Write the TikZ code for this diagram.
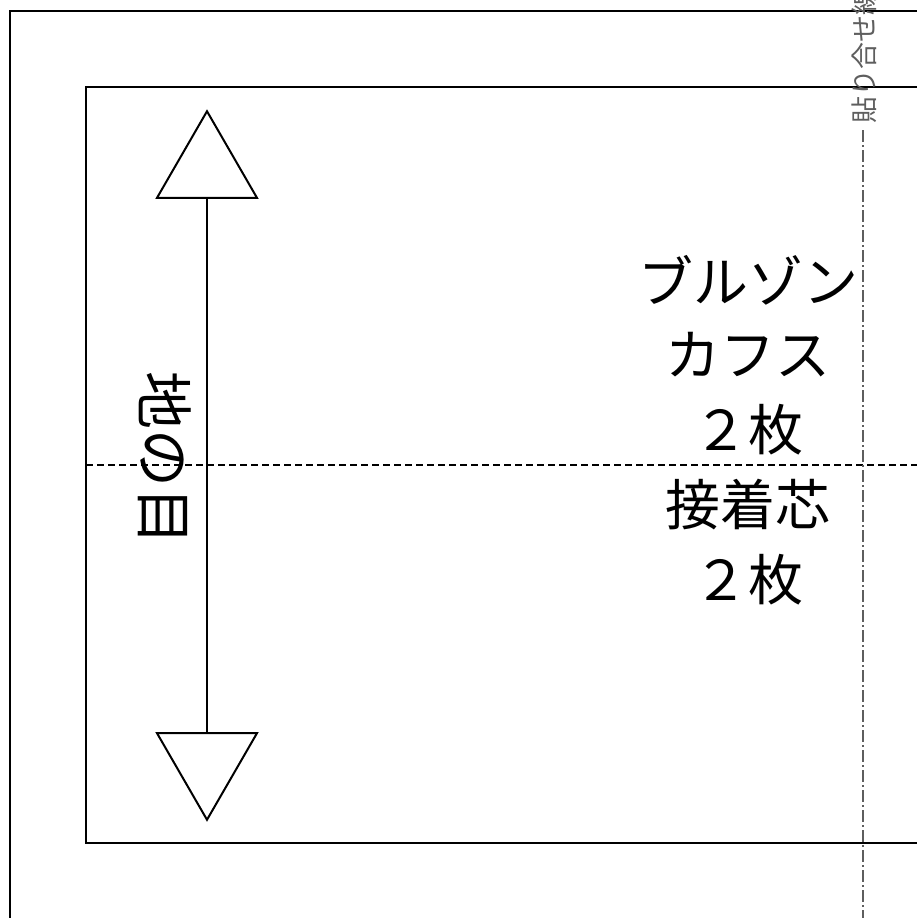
\documentclass[tikz,border=0pt]{standalone}
\usepackage{fontspec}
\newfontfamily\jpfont{Noto Sans CJK JP}
\usetikzlibrary{positioning,shapes.geometric}

\definecolor{guidegray}{HTML}{5E5E5E}

\tikzset{
  frame/.style={line width=2.5pt, line join=miter},
  grainhead/.style={draw, regular polygon, regular polygon sides=3,
    minimum size=115.5pt, inner sep=0pt, outer sep=0pt, line width=2pt},
  label/.style={font=\jpfont\fontsize{55}{60}\selectfont, inner sep=0pt},
  seamlabel/.style={font=\jpfont\fontsize{27}{30}\selectfont, text=guidegray,
    inner sep=0pt, rotate=90, anchor=west}
}

\begin{document}
\begin{tikzpicture}[x=1pt, y=-1pt, node distance=75pt, on grid]
  \useasboundingbox (0,0) rectangle (916,918);
  % outer piece and inner piece
  \draw[frame] (930,11) -| (10,919) -- (930,919);
  \draw[frame] (930,87) -| (86,843) -- (930,843);
  % fold line
  \coordinate (foldL) at (86,465);
  \coordinate (foldR) at (930,465);
  \draw[line width=2pt, dash pattern=on 7pt off 4pt] (foldL) -- (foldR);
  % seam line
  \node[seamlabel] (seam) at (864,124) {貼り合せ線};
  \coordinate (seamB) at (863,930);
  \draw[guidegray, line width=2pt, dash pattern=on 12pt off 3pt on 2pt off 3pt]
    (863,130) -- (seamB);
  % grain line
  \node[grainhead] (up) at (207,169) {};
  \node[grainhead, shape border rotate=180] (down) at (207,762) {};
  \draw[line width=2pt] (up.south) -- (down.north);
  \node[label, font=\jpfont\fontsize{58}{60}\selectfont, rotate=-90] (grain) at (165,458) {地の目};
  % texts
  \node[label] (cuff) at (748,280) {ブルゾン};
  \node[label] (cuffname) [below=of cuff] {カフス};
  \node[label] (cuffcount) [below=of cuffname] {２枚};
  \node[label] (fuse) [below=of cuffcount] {接着芯};
  \node[label] (fusecount) [below=of fuse] {２枚};
\end{tikzpicture}
\end{document}
